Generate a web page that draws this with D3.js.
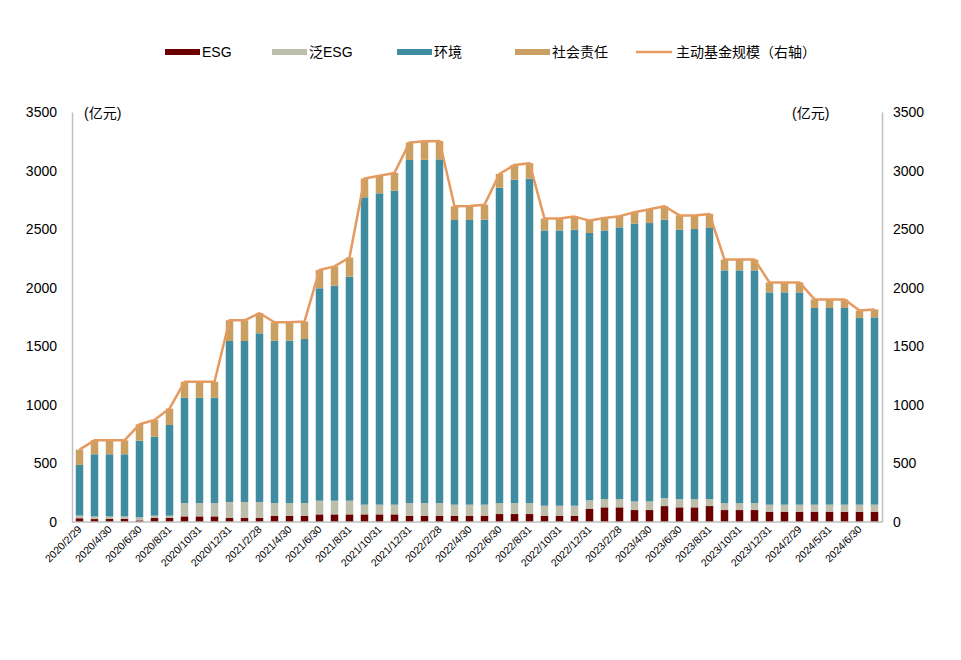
<!DOCTYPE html>
<html><head><meta charset="utf-8">
<script src="https://cdn.jsdelivr.net/npm/d3@7"></script>
<style>
body{margin:0;background:#fff;}
text{font-family:"Liberation Sans",Arial,"Noto Sans CJK SC",sans-serif;}
</style></head>
<body><svg id="c" width="961" height="660"></svg>
<script>
const dates = ["2020/2/29","2020/3/31","2020/4/30","2020/5/31","2020/6/30","2020/7/31","2020/8/31","2020/9/30","2020/10/31","2020/11/30","2020/12/31","2021/1/31","2021/2/28","2021/3/31","2021/4/30","2021/5/31","2021/6/30","2021/7/31","2021/8/31","2021/9/30","2021/10/31","2021/11/30","2021/12/31","2022/1/31","2022/2/28","2022/3/31","2022/4/30","2022/5/31","2022/6/30","2022/7/31","2022/8/31","2022/9/30","2022/10/31","2022/11/30","2022/12/31","2023/1/31","2023/2/28","2023/3/31","2023/4/30","2023/5/31","2023/6/30","2023/7/31","2023/8/31","2023/9/30","2023/10/31","2023/11/30","2023/12/31","2024/1/31","2024/2/29","2024/3/31","2024/5/31","2024/6/14","2024/6/30","2024/7/31"];
const esg    = [32,25,27,27,14,34,34,48,48,48,34,34,34,54,54,54,65,65,65,65,65,65,54,54,54,54,54,54,68,68,68,54,54,54,114,125,125,102,102,136,125,125,136,102,102,102,88,88,88,88,88,88,88,88];
const panEsg = [23,23,21,21,26,20,20,114,114,114,137,137,137,108,108,108,117,117,117,83,83,83,108,108,108,94,94,94,94,94,94,85,85,85,71,71,71,74,74,69,71,71,60,60,60,60,60,60,60,60,60,60,60,60];
const env    = [432,530,530,530,654,674,774,898,898,898,1374,1374,1440,1386,1386,1400,1813,1835,1912,2624,2658,2681,2928,2930,2934,2430,2430,2433,2692,2760,2769,2350,2350,2356,2282,2293,2319,2372,2376,2376,2299,2305,2314,1986,1986,1986,1812,1812,1812,1679,1679,1679,1593,1599];
const social = [131,119,119,119,140,143,140,137,137,137,177,177,171,157,157,150,156,165,164,160,150,151,150,158,156,117,119,128,118,126,132,101,101,112,106,106,95,97,118,114,122,116,120,92,92,92,85,85,85,73,73,73,64,68];
const fundSize = [618,697,697,697,834,871,968,1197,1197,1197,1722,1722,1782,1705,1705,1712,2151,2182,2258,2932,2956,2980,3240,3250,3252,2695,2697,2709,2972,3048,3063,2590,2590,2607,2573,2595,2610,2645,2670,2695,2617,2617,2630,2240,2240,2240,2045,2045,2045,1900,1900,1900,1805,1815];
const yTicks = [0,500,1000,1500,2000,2500,3000,3500];
const seriesNames = ["ESG","泛ESG","环境","社会责任"];
const lineName = "主动基金规模（右轴）";
const colors = ["#6b0000","#bdbdac","#3f8ca1","#c9a061"];
const lineColor = "#e59a5f";

const svg = d3.select("#c");
const x = d3.scaleBand().domain(dates).range([72,882]).paddingInner(0.5).paddingOuter(0.25);
const yL = d3.scaleLinear().domain([0,3500]).range([522,112]);
const yR = d3.scaleLinear().domain([0,3500]).range([522,112]);

const rows = dates.map((d,i)=>({date:d, ESG:esg[i], "泛ESG":panEsg[i], "环境":env[i], "社会责任":social[i]}));
const stack = d3.stack().keys(seriesNames)(rows);

svg.append("g").selectAll("g").data(stack).join("g")
  .attr("fill",(d,i)=>colors[i])
  .selectAll("rect").data(d=>d).join("rect")
  .attr("x",d=>x(d.data.date)).attr("width",x.bandwidth())
  .attr("y",d=>yL(d[1])).attr("height",d=>yL(d[0])-yL(d[1]));

// axes
const axisColor="#bfbfbf";
const fmt = d3.format("d");
const gl = svg.append("g").attr("transform","translate(72,0)")
  .call(d3.axisLeft(yL).tickValues(yTicks).tickFormat(fmt).tickSize(0).tickPadding(15));
const gr = svg.append("g").attr("transform","translate(882,0)")
  .call(d3.axisRight(yR).tickValues(yTicks).tickFormat(fmt).tickSize(0).tickPadding(11));
[gl,gr].forEach(g=>{g.select(".domain").attr("stroke",axisColor).attr("stroke-width",1.5);
  g.selectAll("text").attr("font-size",14).attr("fill","#000").attr("font-family",'"Liberation Sans",Arial,sans-serif');});

const gx = svg.append("g").attr("transform","translate(0,522)")
  .call(d3.axisBottom(x).tickValues(dates.filter((d,i)=>i%2===0)).tickSize(0).tickPadding(0));
gx.select(".domain").attr("stroke",axisColor).attr("stroke-width",1.5).attr("d","M72,0H882");
gx.selectAll("text").attr("font-size",10.5).attr("fill","#000")
  .attr("text-anchor","end").attr("dy",0)
  .attr("transform","translate(3,8) rotate(-45)");

// line on right axis
svg.append("path").datum(fundSize)
  .attr("fill","none").attr("stroke",lineColor).attr("stroke-width",2.5).attr("stroke-linejoin","round")
  .attr("d",d3.line().x((d,i)=>x(dates[i])+x.bandwidth()/2).y(d=>yR(d)));

// units
svg.append("text").attr("x",84).attr("y",118).attr("font-size",14).text("(亿元)");
svg.append("text").attr("x",792).attr("y",118).attr("font-size",14).text("(亿元)");

// legend
const leg = [
  {name:"ESG", c:colors[0], x:165, t:"rect"},
  {name:"泛ESG", c:colors[1], x:272, t:"rect"},
  {name:"环境", c:colors[2], x:397, t:"rect"},
  {name:"社会责任", c:colors[3], x:515, t:"rect"},
  {name:lineName, c:lineColor, x:636, t:"line"}
];
const lg = svg.append("g");
leg.forEach(l=>{
  if(l.t==="rect") lg.append("rect").attr("x",l.x).attr("y",49).attr("width",35).attr("height",6).attr("fill",l.c);
  else lg.append("line").attr("x1",l.x).attr("x2",l.x+36).attr("y1",52).attr("y2",52).attr("stroke",l.c).attr("stroke-width",2.5);
  lg.append("text").attr("x",l.x+(l.t==="rect"?37:40)).attr("y",57).attr("font-size",14).text(l.name);
});
</script></body></html>
